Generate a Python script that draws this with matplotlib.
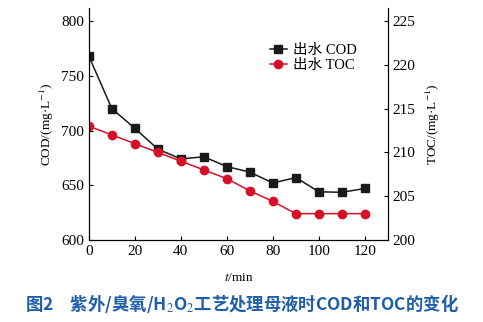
import matplotlib.pyplot as plt

plt.rcParams['font.family'] = ['Liberation Serif', 'Noto Sans CJK SC']
plt.rcParams['mathtext.fontset'] = 'stix'

# data
t = [0, 10, 20, 30, 40, 50, 60, 70, 80, 90, 100, 110, 120]
cod = [768, 720, 702, 683, 674, 676, 667, 662, 652, 657, 644, 643.5, 647]
toc = [213.0, 212.0, 211.0, 210.0, 209.0, 208.0, 207.0, 205.6, 204.4, 203.0, 203.0, 203.0, 203.0]

fig = plt.figure(figsize=(4.83, 3.22), dpi=100)
ax = fig.add_axes([0.184, 0.255, 0.619, 0.72])
ax2 = ax.twinx()

l1, = ax.plot(t, cod, color='#1a1a1a', marker='s', markersize=6, linewidth=1.1, label='出水 COD')
l2, = ax2.plot(t, toc, color='#d7102a', marker='o', markersize=6, linewidth=1.1, label='出水 TOC')

ax.set_xlim(0, 130)
ax.set_ylim(600, 812)
ax2.set_ylim(200, 226.5)
ax.set_xticks(range(0, 121, 20))
ax.set_yticks(range(600, 801, 50))
ax2.set_yticks(range(200, 226, 5))

for a in (ax, ax2):
    a.spines['top'].set_visible(False)
    a.tick_params(direction='in', labelsize=11, length=3, width=0.8)
ax.tick_params(axis='x', pad=4)

ax.set_xlabel('$t$/min', fontsize=9.5, labelpad=10)
ax.set_ylabel('COD/(mg·L$^{-1}$)', fontsize=9.5, labelpad=4)
ax2.set_ylabel('TOC/(mg·L$^{-1}$)', fontsize=9.5, labelpad=6)

ax.legend(handles=[l1, l2], loc='upper left', bbox_to_anchor=(0.585, 0.87),
          frameon=False, fontsize=10.5, handlelength=1.2, handletextpad=0.4,
          labelspacing=0.12, borderaxespad=0)

fig.text(0.5, 0.058, '图2　紫外/臭氧/H$_2$O$_2$工艺处理母液时COD和TOC的变化',
         ha='center', va='center', fontsize=12.5, color='#1f5ea8', fontweight='bold',
         family=['Noto Sans CJK SC', 'DejaVu Sans'])

fig.savefig('out.png', dpi=100)
